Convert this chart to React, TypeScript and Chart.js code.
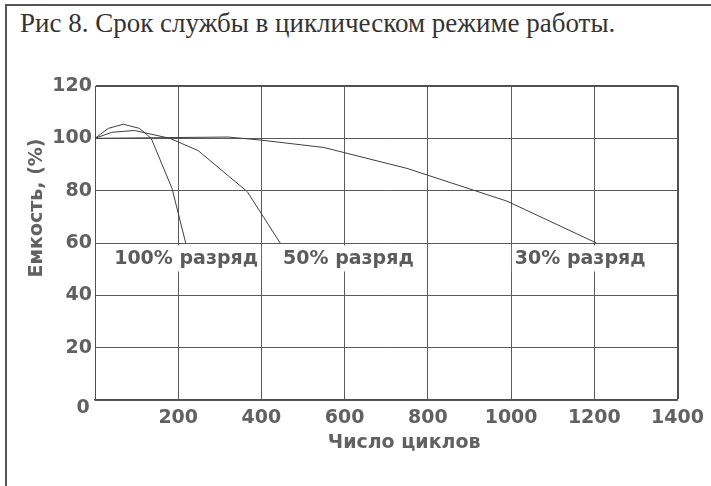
import React, { useEffect, useRef } from 'react';
import { Chart, registerables } from 'chart.js';

Chart.register(...registerables);

// ---- Text ----
const TITLE = 'Рис 8. Срок службы в циклическом режиме работы.';
const X_TITLE = 'Число циклов';
const Y_TITLE = 'Емкость, (%)';
const ORIGIN_LABEL = '0';

// ---- Axes ----
const X_MIN = 0;
const X_MAX = 1400;
const X_STEP = 200;
const Y_MIN = 0;
const Y_MAX = 120;
const Y_STEP = 20;

// ---- Series (cycles, capacity %) ----
const SERIES_LABELS = ['100% разряд', '50% разряд', '30% разряд'];

const cycles100 = [0, 32, 68, 107, 135, 185, 218];
const capacity100 = [100, 103.8, 105.4, 103.8, 100, 80.9, 60];

const cycles50 = [0, 40, 95, 180, 248, 366, 445];
const capacity50 = [100, 102.3, 103, 100, 95.3, 79.6, 60];

const cycles30 = [0, 320, 400, 550, 750, 990, 1205];
const capacity30 = [100, 100.5, 99.3, 96.5, 88.5, 76, 60];

// label anchors (in data units)
const LABEL_CYCLES = [219, 609, 1166];
const LABEL_CAPACITY = [53.7, 53.7, 53.7];

const toPoints = (xs: number[], ys: number[]) => xs.map((x, i) => ({ x, y: ys[i] }));

const FONT_BOLD = '"DejaVu Sans", Verdana, sans-serif';
const TEXT_GRAY = '#616161';
const FONT_SIZE = 19;

const textPlugin = {
  id: 'chartTexts',
  afterDraw(chart: any) {
    const { ctx, chartArea, scales } = chart;
    const x = scales.x;
    const y = scales.y;
    ctx.save();
    ctx.font = `bold ${FONT_SIZE}px ${FONT_BOLD}`;
    ctx.textAlign = 'center';
    ctx.textBaseline = 'middle';
    SERIES_LABELS.forEach((t, i) => {
      const px = x.getPixelForValue(LABEL_CYCLES[i]);
      const py = y.getPixelForValue(LABEL_CAPACITY[i]);
      const w = ctx.measureText(t).width;
      ctx.fillStyle = '#ffffff';
      ctx.fillRect(px - w / 2 - 3, py - 14, w + 6, 26);
      ctx.fillStyle = '#5c5c5c';
      ctx.fillText(t, px, py);
    });
    ctx.fillStyle = TEXT_GRAY;
    ctx.fillText(ORIGIN_LABEL, chartArea.left - 12, chartArea.bottom + 8);
    ctx.fillText(X_TITLE, x.getPixelForValue(743), chartArea.bottom + 43.5);
    ctx.translate(chartArea.left - 57.5, y.getPixelForValue(73.4));
    ctx.rotate(-Math.PI / 2);
    ctx.fillText(Y_TITLE, 0, 0);
    ctx.restore();
  },
};

export default function App() {
  const canvasRef = useRef<HTMLCanvasElement | null>(null);

  useEffect(() => {
    if (!canvasRef.current) return;
    const lineStyle = {
      borderColor: '#404040',
      borderWidth: 1,
      pointRadius: 0,
      tension: 0,
      fill: false,
    };
    const chart = new Chart(canvasRef.current, {
      type: 'line',
      data: {
        datasets: [
          { label: SERIES_LABELS[0], data: toPoints(cycles100, capacity100), ...lineStyle },
          { label: SERIES_LABELS[1], data: toPoints(cycles50, capacity50), ...lineStyle },
          { label: SERIES_LABELS[2], data: toPoints(cycles30, capacity30), ...lineStyle },
        ],
      },
      options: {
        animation: false,
        responsive: false,
        devicePixelRatio: 1,
        layout: { padding: { left: 0, right: 33, top: 86, bottom: 0 } },
        plugins: {
          legend: { display: false },
          tooltip: { enabled: false },
          title: { display: false },
        },
        scales: {
          x: {
            type: 'linear',
            min: X_MIN,
            max: X_MAX,
            afterBuildTicks: (scale: any) => {
              const t = [];
              for (let v = X_MIN; v <= X_MAX; v += X_STEP) t.push({ value: v });
              scale.ticks = t;
            },
            afterFit: (scale: any) => {
              scale.height = 86;
            },
            ticks: {
              color: TEXT_GRAY,
              font: { family: FONT_BOLD, size: FONT_SIZE, weight: 'bold' },
              padding: 7,
              maxRotation: 0,
              autoSkip: false,
              callback: (v: any) => (v === 0 ? '' : String(v)),
            },
            grid: {
              drawTicks: false,
              color: (c: any) => (c.tick && c.tick.value === X_MAX ? '#505050' : '#5a5a5a'),
              lineWidth: (c: any) => (c.tick && c.tick.value === X_MAX ? 2 : 1),
            },
            border: { color: '#505050', width: 1.5 },
          },
          y: {
            type: 'linear',
            min: Y_MIN,
            max: Y_MAX,
            afterBuildTicks: (scale: any) => {
              const t = [];
              for (let v = Y_MIN; v <= Y_MAX; v += Y_STEP) t.push({ value: v });
              scale.ticks = t;
            },
            afterFit: (scale: any) => {
              scale.width = 95;
            },
            ticks: {
              color: TEXT_GRAY,
              font: { family: FONT_BOLD, size: FONT_SIZE, weight: 'bold' },
              padding: 3,
              autoSkip: false,
              callback: (v: any) => (v === 0 ? '' : String(v)),
            },
            grid: {
              drawTicks: false,
              color: (c: any) => (c.tick && c.tick.value === Y_MAX ? '#505050' : '#5a5a5a'),
              lineWidth: (c: any) => (c.tick && c.tick.value === Y_MAX ? 2 : 1),
            },
            border: { color: '#505050', width: 1 },
          },
        },
      },
      plugins: [textPlugin],
    });
    return () => chart.destroy();
  }, []);

  return (
    <div style={{ position: 'fixed', left: 0, top: 0, width: 711, height: 486, background: '#ffffff', overflow: 'hidden' }}>
      <div
        style={{
          position: 'absolute',
          left: 5,
          top: 4,
          right: -10,
          bottom: -10,
          borderTop: '2px solid #555555',
          borderLeft: '2px solid #555555',
        }}
      />
      <div
        style={{
          position: 'absolute',
          left: 20,
          top: 7,
          fontFamily: '"Liberation Serif", "Times New Roman", serif',
          fontSize: 27,
          lineHeight: '32px',
          color: '#333333',
          whiteSpace: 'nowrap',
        }}
      >
        {TITLE}
      </div>
      <canvas ref={canvasRef} width={711} height={486} style={{ position: 'absolute', left: 0, top: 0 }} />
    </div>
  );
}
